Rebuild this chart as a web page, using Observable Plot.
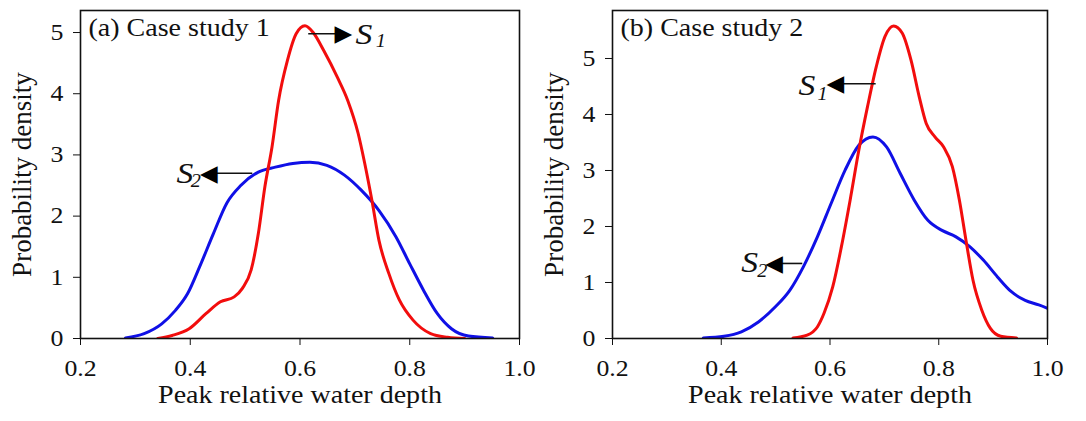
<!DOCTYPE html>
<html><head><meta charset="utf-8">
<script src="https://cdn.jsdelivr.net/npm/d3@7"></script>
<script src="https://cdn.jsdelivr.net/npm/@observablehq/plot@0.6"></script>
<style>
body{margin:0;background:#fff;}
#wrap{position:relative;width:1086px;height:421px;overflow:hidden;background:#fff;}
#wrap svg{position:absolute;top:0;overflow:visible;}
</style></head><body><div id="wrap"></div>
<script>
// ---- data ----
const xTicks = [0.2, 0.4, 0.6, 0.8, 1.0];
const yTicks = [0, 1, 2, 3, 4, 5];
const xLabel = "Peak relative water depth";
const yLabel = "Probability density";
const titles = ["(a) Case study 1", "(b) Case study 2"];

// Case study 1
const c1S1x = [0.341,0.367,0.398,0.429,0.455,0.48,0.495,0.511,0.524,0.536,0.549,0.561,0.577,0.593,0.609,0.624,0.643,0.668,0.687,0.706,0.718,0.731,0.744,0.762,0.781,0.806,0.838,0.869,0.9];
const c1S1y = [0.0,0.05,0.16,0.41,0.6,0.68,0.82,1.12,1.71,2.48,3.13,3.89,4.54,4.98,5.11,5.0,4.71,4.27,3.89,3.35,2.86,2.26,1.6,1.06,0.63,0.3,0.08,0.02,0.0];
const c1S2x = [0.282,0.316,0.348,0.373,0.395,0.417,0.442,0.467,0.492,0.524,0.555,0.587,0.618,0.649,0.681,0.712,0.744,0.775,0.8,0.825,0.85,0.876,0.907,0.951];
const c1S2y = [0.01,0.08,0.24,0.46,0.73,1.17,1.71,2.22,2.5,2.72,2.8,2.86,2.88,2.83,2.67,2.42,2.09,1.66,1.22,0.79,0.41,0.16,0.04,0.01];

// Case study 2
const c2S1x = [0.532,0.558,0.577,0.589,0.605,0.621,0.637,0.653,0.669,0.685,0.701,0.717,0.733,0.749,0.764,0.777,0.793,0.809,0.825,0.838,0.85,0.863,0.879,0.895,0.914,0.943];
const c2S1y = [0.01,0.06,0.21,0.45,0.92,1.64,2.47,3.36,4.14,4.85,5.39,5.58,5.45,4.97,4.32,3.84,3.6,3.42,3.07,2.47,1.76,1.04,0.51,0.18,0.04,0.01];
const c2S2x = [0.367,0.405,0.437,0.469,0.5,0.526,0.551,0.577,0.602,0.628,0.653,0.679,0.704,0.729,0.755,0.78,0.806,0.831,0.857,0.882,0.908,0.933,0.959,0.984,1.0];
const c2S2y = [0.01,0.04,0.12,0.3,0.57,0.86,1.28,1.82,2.41,3.01,3.45,3.6,3.42,2.95,2.47,2.11,1.93,1.82,1.64,1.4,1.1,0.84,0.68,0.6,0.54];

// annotations (S label, subscript, arrow)
const annSub = ["1", "2"];
const c1AnnX = [0.701, 0.375]; const c1AnnY = [4.97, 2.70];
const c1SubX = [0.738, 0.401]; const c1SubY = [4.85, 2.57];
const c1ArrFrom = [0.615, 0.513]; const c1ArrTip = [0.679, 0.434]; const c1ArrY = [4.98, 2.70];
const c2AnnX = [0.542, 0.437]; const c2AnnY = [4.52, 1.357];
const c2SubX = [0.577, 0.466]; const c2SubY = [4.37, 1.21];
const c2ArrFrom = [0.684, 0.549]; const c2ArrTip = [0.61, 0.497]; const c2ArrY = [4.55, 1.34];

const yMax = [5.36, 5.857];

// ---- drawing ----
const serif = "'Liberation Serif', 'Times New Roman', serif";
const RED = "#f20d0d", BLUE = "#1010e6";

function panel(i, s1x, s1y, s2x, s2y, ax, ay, sx, sy, af, at, ayy, w, ml, mr) {
  const s1 = s1x.map((x, j) => ({x, y: s1y[j]}));
  const s2 = s2x.map((x, j) => ({x, y: s2y[j]}));
  const ann = ax.map((x, j) => ({x, y: ay[j], sx: sx[j], sy: sy[j], sub: annSub[j],
                                  from: af[j], tip: at[j], ay: ayy[j]}));
  return Plot.plot({
    width: w, height: 421,
    marginLeft: ml, marginRight: mr, marginTop: 10, marginBottom: 83,
    style: {fontFamily: serif, fontSize: "23px", color: "#111", background: "transparent", overflow: "visible"},
    x: {domain: [0.2, 1.0], ticks: xTicks, tickFormat: d3.format(".1f"), tickSize: 7, tickPadding: 14, label: null},
    y: {domain: [0, yMax[i]], ticks: yTicks, tickFormat: d3.format("d"), tickSize: 7, tickPadding: 10, label: null},
    marks: [
      Plot.line(s2, {x: "x", y: "y", stroke: BLUE, strokeWidth: 3, curve: "monotone-x", clip: true}),
      Plot.line(s1, {x: "x", y: "y", stroke: RED, strokeWidth: 3, curve: "monotone-x", clip: true}),
      Plot.frame({stroke: "#111", strokeWidth: 1.6}),
      Plot.link(ann, {x1: "from", x2: "tip", y1: "ay", y2: "ay", stroke: "#111", strokeWidth: 1.6}),
      Plot.text(ann, {x: "tip", y: "ay", text: d => d.tip > d.from ? "\u25B6" : "\u25C0",
        textAnchor: d => d.tip > d.from ? "end" : "start",
        fontFamily: "DejaVu Sans", fontSize: 23, fill: "#000"}),
      Plot.text(ann, {x: "x", y: "y", text: d => "S", textAnchor: "start", fontStyle: "italic", fontSize: 30, fill: "#111"}),
      Plot.text(ann, {x: "sx", y: "sy", text: "sub", textAnchor: "start", fontStyle: "italic", fontSize: 18, fill: "#111"}),
      Plot.text([titles[i]], {frameAnchor: "top-left", dx: 8, dy: 8, textAnchor: "start", lineAnchor: "top", fontSize: 25, fill: "#111"}),
      Plot.text([xLabel], {frameAnchor: "bottom", dy: 64, fontSize: 25, fill: "#111"}),
      Plot.text([yLabel], {frameAnchor: "left", dx: -58, rotate: -90, textAnchor: "middle", fontSize: 27, fill: "#111"})
    ]
  });
}

const wrap = document.getElementById("wrap");
// left panel frame spans x 80..519, right panel frame x 612..1047
const p1 = panel(0, c1S1x, c1S1y, c1S2x, c1S2y, c1AnnX, c1AnnY, c1SubX, c1SubY, c1ArrFrom, c1ArrTip, c1ArrY, 535, 80, 16);
const p2 = panel(1, c2S1x, c2S1y, c2S2x, c2S2y, c2AnnX, c2AnnY, c2SubX, c2SubY, c2ArrFrom, c2ArrTip, c2ArrY, 551, 77, 39);
p1.style.left = "0px"; p2.style.left = "535px";
wrap.appendChild(p1); wrap.appendChild(p2);

// widen horizontal serif glyphs slightly, as in the reference
const K = 1.12;
for (const svg of [p1, p2]) {
  svg.querySelectorAll("text").forEach(t => {
    if (/[\u25B6\u25C0]/.test(t.textContent)) return;
    if ((t.getAttribute("transform") || "").includes("rotate")) return;
    const L = t.getComputedTextLength();
    if (L > 0) { t.setAttribute("textLength", (L * K).toFixed(1)); t.setAttribute("lengthAdjust", "spacingAndGlyphs"); }
  });
}
</script></body></html>
